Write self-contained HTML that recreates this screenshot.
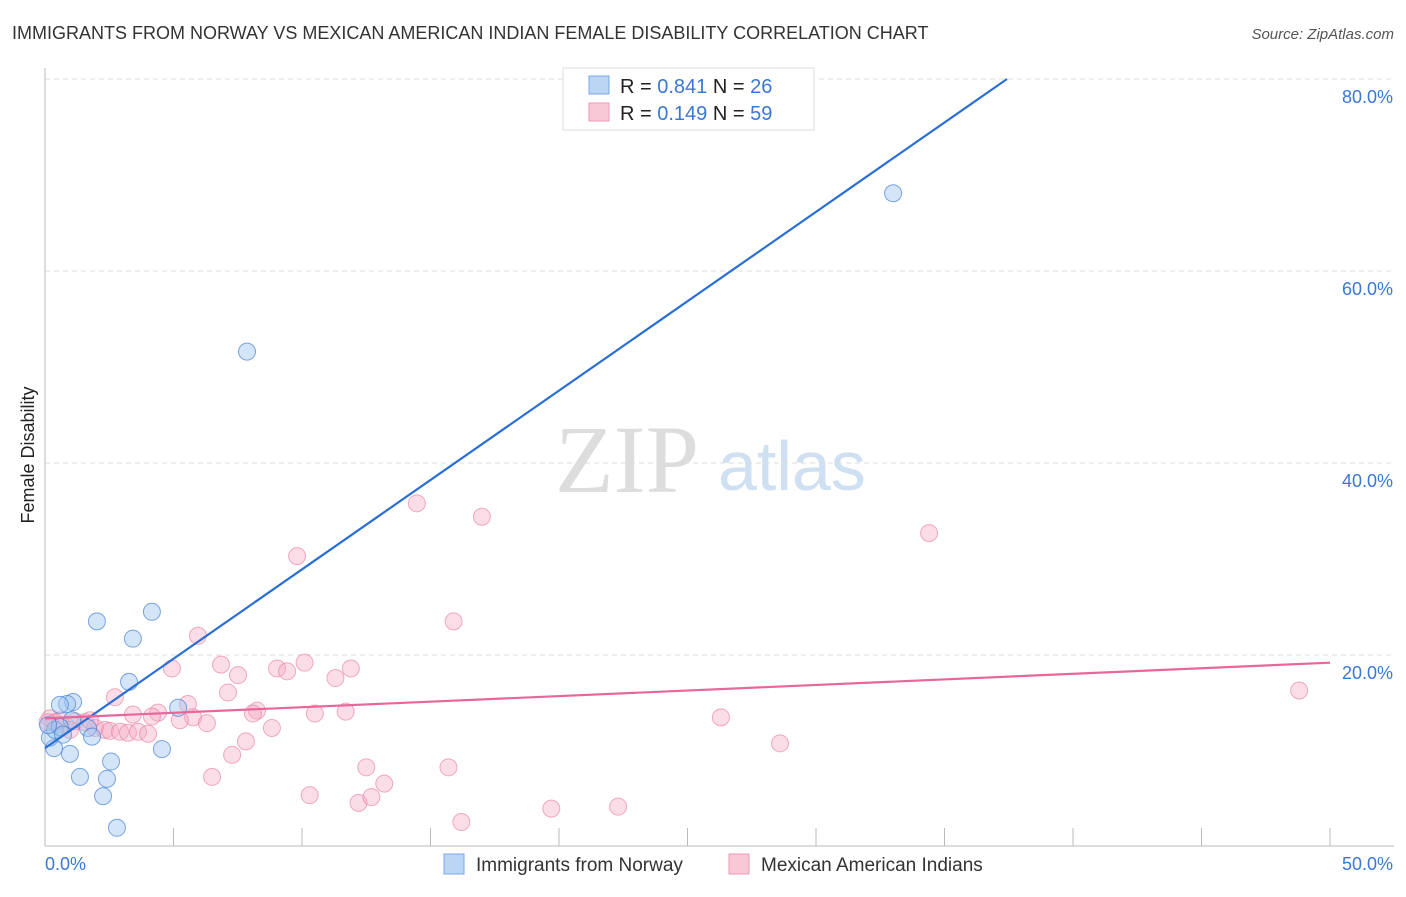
<!DOCTYPE html>
<html><head><meta charset="utf-8"><style>
body{margin:0;background:#fff;font-family:"Liberation Sans",sans-serif;}
</style></head><body>
<svg width="1406" height="892" xmlns="http://www.w3.org/2000/svg">
<text x="12" y="39" font-size="18" fill="#333">IMMIGRANTS FROM NORWAY VS MEXICAN AMERICAN INDIAN FEMALE DISABILITY CORRELATION CHART</text>
<text x="1394" y="39" font-size="15" fill="#555" font-style="italic" text-anchor="end">Source: ZipAtlas.com</text>
<text x="555" y="492" font-size="96" fill="#ddd" font-family="Liberation Serif,serif">ZIP</text>
<text x="718" y="490" font-size="70" fill="#cfe0f3">atlas</text>
<text transform="translate(34,455) rotate(-90)" font-size="18" fill="#222" text-anchor="middle">Female Disability</text>
<g id="grid"></g><g id="axes"></g><g id="pts"></g><g id="lines"></g>
<g>
<rect x="563" y="68" width="251" height="62" fill="#fff" stroke="#ddd"/>
<rect x="589" y="76" width="20" height="18" fill="#bcd5f5" stroke="#7aa8e8"/>
<rect x="589" y="103" width="20" height="18" fill="#f9c8d7" stroke="#ee9ab5"/>
<text x="620" y="93" font-size="20" fill="#222">R = <tspan fill="#3a78d6">0.841</tspan>   N = <tspan fill="#3a78d6">26</tspan></text>
<text x="620" y="120" font-size="20" fill="#222">R = <tspan fill="#3a78d6">0.149</tspan>   N = <tspan fill="#3a78d6">59</tspan></text>
</g>
<g>
<rect x="444" y="854" width="20" height="20" fill="#bcd5f5" stroke="#7aa8e8"/>
<text x="476" y="871" font-size="19" fill="#333">Immigrants from Norway</text>
<rect x="729" y="854" width="20" height="20" fill="#f9c8d7" stroke="#ee9ab5"/>
<text x="761" y="871" font-size="19" fill="#333">Mexican American Indians</text>
</g>
<text x="45" y="870" font-size="18" fill="#3a78d6">0.0%</text>
<text x="1393" y="870" font-size="18" fill="#3a78d6" text-anchor="end">50.0%</text>
</svg>
<script>
const yTicks=[20,40,60,80];
const tickLabels=["20.0%","40.0%","60.0%","80.0%"];
const xTicks=[0,5,10,15,20,25,30,35,40,45,50];
const norwayX=[7.86,33.0,2.02,4.16,3.42,3.27,5.18,1.09,0.86,0.58,1.05,1.67,1.83,0.35,0.97,4.55,1.36,2.41,2.57,2.26,2.80,0.19,0.39,0.58,0.70,0.12];
const norwayY=[51.6,68.1,23.5,24.5,21.7,17.2,14.5,15.1,14.9,14.8,13.2,12.4,11.5,10.3,9.7,10.2,7.3,7.1,8.9,5.3,2.0,11.4,12.2,12.5,11.7,12.7];
const mexX=[14.47,17.0,34.4,9.81,15.9,5.95,48.8,4.94,6.85,7.51,9.03,9.42,10.1,11.9,11.3,7.12,2.72,5.56,8.25,11.7,10.5,8.09,5.76,6.30,4.40,3.42,4.16,5.25,8.83,7.82,7.28,6.50,26.3,28.6,12.5,15.7,13.2,10.3,12.2,12.7,19.7,22.3,16.2,0.19,0.39,0.78,1.17,1.56,1.95,2.33,2.53,2.92,3.23,3.62,4.01,1.75,0.97,0.58,0.1];
const mexY=[35.8,34.4,32.7,30.3,23.5,22.0,16.3,18.6,19.0,17.9,18.6,18.3,19.2,18.6,17.6,16.1,15.6,14.9,14.2,14.1,13.9,13.9,13.5,12.9,14.0,13.8,13.6,13.2,12.4,11.0,9.6,7.3,13.5,10.8,8.3,8.3,6.6,5.4,4.6,5.2,4.0,4.2,2.6,13.4,13.0,12.7,13.1,13.0,12.4,12.2,12.1,12.0,11.9,12.0,11.8,13.2,12.2,13.2,13.0];
const norwayLine=[10.3,1.862];
const mexLine=[13.4,0.116];
const NS="http://www.w3.org/2000/svg";
const X=v=>45+v*1285/50, Y=v=>847-v*9.6;
function mk(t,a,p){const e=document.createElementNS(NS,t);for(const k in a)e.setAttribute(k,a[k]);document.getElementById(p).appendChild(e);return e;}
yTicks.forEach((t,i)=>{
 const g=mk('line',{x1:45,x2:1394,y1:Y(t),y2:Y(t),stroke:'#ddd','stroke-dasharray':'5,4'},'grid');
 
 
 const tx=mk('text',{x:1393,y:Y(t)+24,'font-size':18,fill:'#3a78d6','text-anchor':'end'},'grid');
 tx.textContent=tickLabels[i];
 
 
});
const ax=mk('line',{x1:45,x2:45,y1:68,y2:846,stroke:'#bbb'},'axes');


const bx=mk('line',{x1:45,x2:1394,y1:846,y2:846,stroke:'#bbb'},'axes');


xTicks.forEach(t=>{const l=mk('line',{x1:X(t),x2:X(t),y1:828,y2:846,stroke:'#bbb'},'axes');
 
 });
mexX.forEach((x,i)=>{const c=mk('circle',{cx:X(x),cy:Y(mexY[i]),r:8.5,fill:'rgba(246,170,195,0.4)',stroke:'rgba(232,120,158,0.6)'},'pts');
 
 });
norwayX.forEach((x,i)=>{const c=mk('circle',{cx:X(x),cy:Y(norwayY[i]),r:8.5,fill:'rgba(160,198,240,0.45)',stroke:'rgba(70,130,215,0.7)'},'pts');
 
 });
const xEnd=(80-norwayLine[0])/norwayLine[1];
const l1=mk('line',{x1:X(0),y1:Y(norwayLine[0]),x2:X(xEnd),y2:Y(80),stroke:'#2a6fd6','stroke-width':2.2},'lines');


const l2=mk('line',{x1:X(0),y1:Y(mexLine[0]),x2:X(50),y2:Y(mexLine[0]+50*mexLine[1]),stroke:'#e8679a','stroke-width':2.2},'lines');


</script>
</body></html>
